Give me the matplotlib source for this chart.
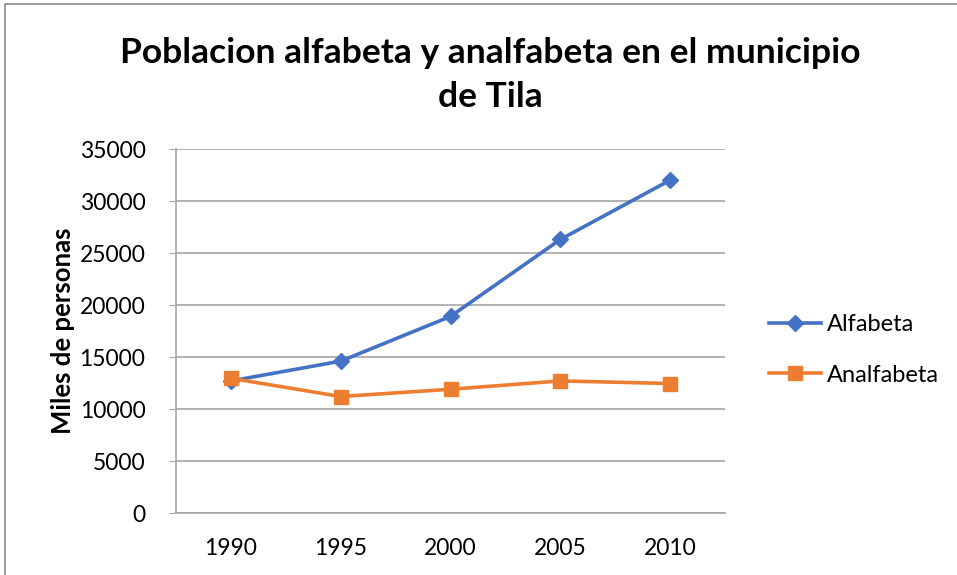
import matplotlib
matplotlib.use("Agg")
import matplotlib.pyplot as plt
from matplotlib.patches import Rectangle

years = ["1990", "1995", "2000", "2005", "2010"]
alfabeta = [12700, 14600, 18900, 26300, 32000]
analfabeta = [12950, 11200, 11900, 12700, 12450]
yticks = [0, 5000, 10000, 15000, 20000, 25000, 30000, 35000]

plt.rcParams['font.family'] = ['Lato', 'DejaVu Sans']

W, H = 957, 575
fig = plt.figure(figsize=(W / 100, H / 100), dpi=100)
ax = fig.add_axes([176 / W, 1 - 513 / H, (725 - 176) / W, (513 - 149) / H])

x = list(range(len(years)))
ax.plot(x, alfabeta, color='#4472C4', lw=2.6, marker='D', ms=8, label='Alfabeta', zorder=3)
ax.plot(x, analfabeta, color='#ED7D31', lw=2.6, marker='s', ms=10, label='Analfabeta', zorder=4)

ax.set_xlim(-0.5, len(years) - 0.5)
ax.set_ylim(0, 35000)
ax.set_yticks(yticks)
ax.set_yticklabels([str(v) for v in yticks])
ax.set_xticks(x)
ax.set_xticklabels(years)
ax.yaxis.grid(True, color='#a6a6a6', lw=1.2)
ax.set_axisbelow(True)
for s in ['top', 'right']:
    ax.spines[s].set_visible(False)
for s in ['left', 'bottom']:
    ax.spines[s].set_color('#a6a6a6')
    ax.spines[s].set_linewidth(1.2)
ax.tick_params(axis='y', length=5, color='#a6a6a6', labelsize=16.5, pad=17, labelcolor='#000000')
ax.tick_params(axis='x', length=0, labelsize=16.5, pad=18, labelcolor='#000000')

ax.set_ylabel('Miles de personas', fontsize=18.5, fontweight='bold')
ax.yaxis.set_label_coords((63 - 176) / (725 - 176), 0.5)
ax.yaxis.label.set_va('center')

fig.text(490 / W, 1 - 75 / H, 'Poblacion alfabeta y analfabeta en el municipio\nde Tila',
         ha='center', va='center', fontsize=25.5, fontweight='bold', linespacing=1.45)

leg = fig.legend(loc='center left', bbox_to_anchor=(760 / W, 1 - 350 / H), frameon=False,
                 fontsize=17, handlelength=2.2, handletextpad=0.25, labelspacing=1.25,
                 borderaxespad=0)

fig.patches.append(Rectangle((5 / W, -0.1), 1.2, 1 - 4 / H + 0.1, transform=fig.transFigure,
                             fill=False, edgecolor='#8c8c8c', lw=1.2))

fig.savefig('out.png', dpi=100)
